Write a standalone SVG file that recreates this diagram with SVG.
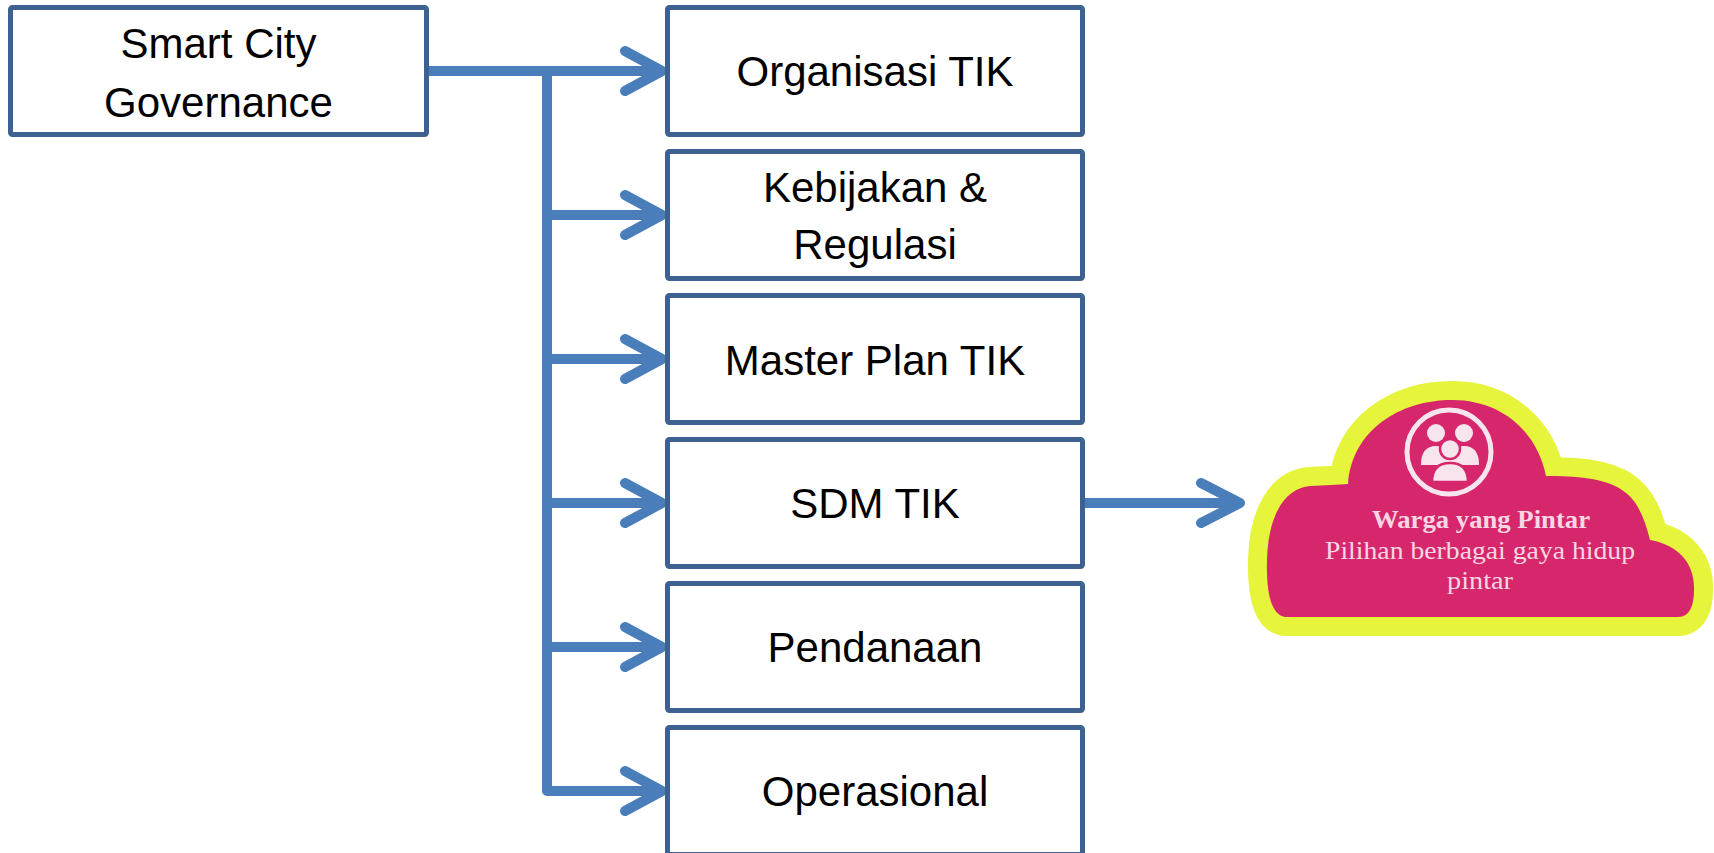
<svg xmlns="http://www.w3.org/2000/svg" width="1714" height="853" viewBox="0 0 1714 853">
<defs>
<style>
.box{fill:#ffffff;stroke:#3d6190;stroke-width:5;}
.lbl{font-family:"Liberation Sans",Arial,sans-serif;font-size:42px;fill:#000000;text-anchor:middle;}
.conn{fill:none;stroke:#4a7ebb;stroke-width:10;stroke-linecap:round;stroke-linejoin:round;}
.line{fill:none;stroke:#4a7ebb;stroke-width:10;stroke-linecap:butt;stroke-linejoin:round;}
.ctext{font-family:"Liberation Serif","Times New Roman",serif;font-size:26px;fill:#f8d6e2;text-anchor:middle;}
.icon{fill:#f8e4ec;}
</style>
</defs>
<rect width="1714" height="853" fill="#ffffff"/>

<g id="connectors">
<path class="line" d="M427 71 H660"/>
<path class="line" d="M547 71 V791 H660"/>
<path class="line" d="M547 215 H660"/>
<path class="line" d="M547 359 H660"/>
<path class="line" d="M547 503 H660"/>
<path class="line" d="M547 647 H660"/>
<path class="conn" d="M625 51 L662 71 L625 91"/>
<path class="conn" d="M625 195 L662 215 L625 235"/>
<path class="conn" d="M625 339 L662 359 L625 379"/>
<path class="conn" d="M625 483 L662 503 L625 523"/>
<path class="conn" d="M625 627 L662 647 L625 667"/>
<path class="conn" d="M625 771 L662 791 L625 811"/>
<path class="line" d="M1085 503 H1238"/>
<path class="conn" d="M1201 483 L1240 503 L1201 523"/>
</g>

<g id="node-smart-city">
<rect class="box" x="10.5" y="7.5" width="416" height="127" rx="2"/>
<text class="lbl" x="218.5" y="58">Smart City</text>
<text class="lbl" x="218.5" y="117">Governance</text>
</g>

<g id="node-organisasi">
<rect class="box" x="667.5" y="7.5" width="415" height="127" rx="2"/>
<text class="lbl" x="875" y="86">Organisasi TIK</text>
</g>

<g id="node-kebijakan">
<rect class="box" x="667.5" y="151.5" width="415" height="127" rx="2"/>
<text class="lbl" x="875" y="202">Kebijakan &amp;</text>
<text class="lbl" x="875" y="259">Regulasi</text>
</g>

<g id="node-masterplan">
<rect class="box" x="667.5" y="295.5" width="415" height="127" rx="2"/>
<text class="lbl" x="875" y="375">Master Plan TIK</text>
</g>

<g id="node-sdm">
<rect class="box" x="667.5" y="439.5" width="415" height="127" rx="2"/>
<text class="lbl" x="875" y="518">SDM TIK</text>
</g>

<g id="node-pendanaan">
<rect class="box" x="667.5" y="583.5" width="415" height="127" rx="2"/>
<text class="lbl" x="875" y="662">Pendanaan</text>
</g>

<g id="node-operasional">
<rect class="box" x="667.5" y="727.5" width="415" height="127" rx="2"/>
<text class="lbl" x="875" y="806">Operasional</text>
</g>

<g id="node-warga">
<path d="M1285 617 C1272 615 1266 595 1267 560 C1268 515 1285 488 1310 486 C1325 485 1338 485 1348 484 C1352 430 1400 400 1452 400 C1505 400 1538 435 1546 476 C1575 476 1605 478 1622 490 C1638 500 1645 520 1650 540 C1680 545 1695 565 1694 590 C1694 605 1690 617 1678 617 Z" fill="#d7276c" stroke="#e6f53c" stroke-width="38" stroke-linejoin="round" paint-order="stroke"/>
<circle cx="1449" cy="452" r="42" fill="none" stroke="#f8e4ec" stroke-width="5"/>
<circle class="icon" cx="1436" cy="433" r="9"/>
<path class="icon" d="M1421 465 Q1421 446 1436 446 Q1451 446 1451 465 Z"/>
<circle class="icon" cx="1464" cy="433" r="9"/>
<path class="icon" d="M1449 465 Q1449 446 1464 446 Q1479 446 1479 465 Z"/>
<circle class="icon" cx="1450" cy="449" r="10" stroke="#d7276c" stroke-width="2.5"/>
<path class="icon" d="M1432 482 Q1432 463 1450 463 Q1468 463 1468 482 Z" stroke="#d7276c" stroke-width="2.5"/>
<text class="ctext" x="1481" y="528" font-weight="bold" textLength="218" lengthAdjust="spacingAndGlyphs">Warga yang Pintar</text>
<text class="ctext" x="1480" y="559" textLength="310" lengthAdjust="spacingAndGlyphs">Pilihan berbagai gaya hidup</text>
<text class="ctext" x="1480" y="589" textLength="66" lengthAdjust="spacingAndGlyphs">pintar</text>
</g>
</svg>
